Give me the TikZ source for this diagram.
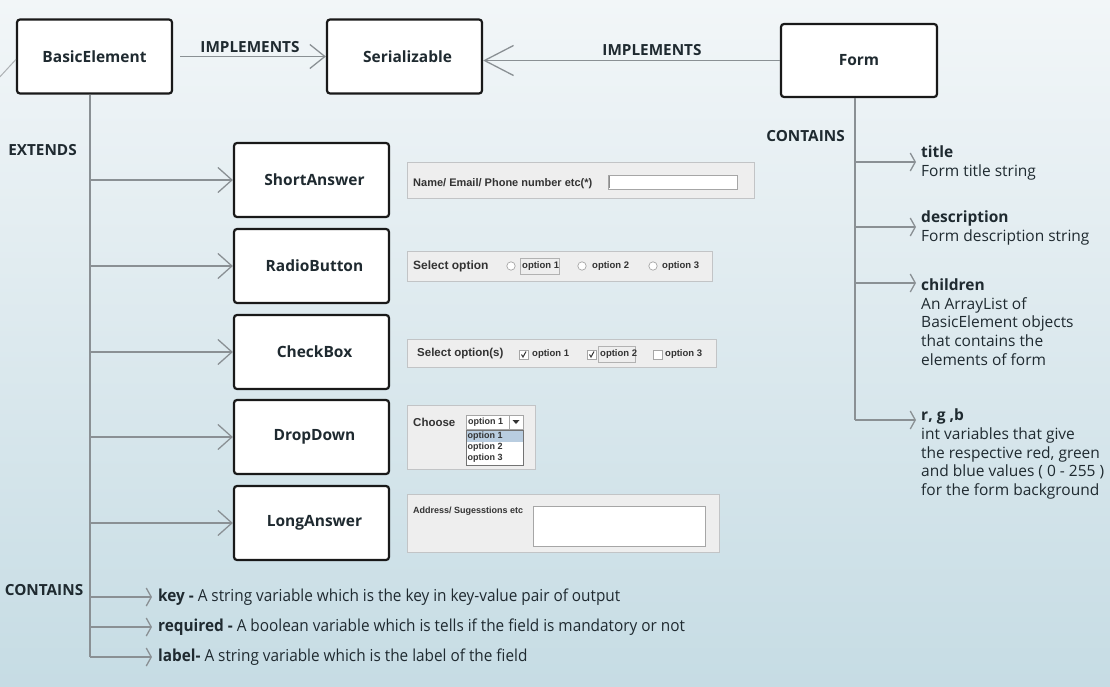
\documentclass[tikz,border=0pt]{standalone}
\usepackage{fontspec}
\setmainfont{Open Sans}
\newfontfamily\condfont[FakeStretch=0.93]{Open Sans}
\newfontfamily\swfont{Liberation Sans}
\usetikzlibrary{arrows.meta}
\definecolor{bgtop}{HTML}{F2F6F8}
\definecolor{bgbot}{HTML}{C6DCE4}
\definecolor{ink}{HTML}{1F2A30}
\definecolor{connc}{HTML}{8A9094}
\definecolor{panelc}{HTML}{EEEEEE}
\definecolor{panelb}{HTML}{C2C4C6}
\definecolor{swink}{HTML}{333333}
\definecolor{selc}{HTML}{B9CDE0}
\tikzset{
  classbox/.style={draw=black!90, line width=2.2pt, fill=white, rounded corners=3pt,
    minimum width=155pt, minimum height=74pt, inner sep=0pt, text=ink,
    font=\bfseries\fontsize{15.5}{18}\selectfont},
  lbl/.style={text=ink, inner sep=0pt, font=\bfseries\fontsize{15.3}{18}\selectfont},
  conn/.style={draw=connc, line width=1.3pt},
  bigbarb/.style={-{Straight Barb[length=15pt,width=24pt]}},
  hugebarb/.style={-{Straight Barb[length=29pt,width=30pt]}},
  midbarb/.style={-{Straight Barb[length=14pt,width=25pt]}},
  smallbarb/.style={-{Straight Barb[length=5pt,width=18pt]}},
  desc/.style={text=ink, inner sep=0pt, anchor=west, align=left,
    font=\fontsize{15.5}{18.8}\selectfont},
  bdesc/.style={text=ink, inner sep=0pt, anchor=west,
    font=\condfont\fontsize{16.5}{19}\selectfont},
  panel/.style={fill=panelc, draw=panelb, line width=0.9pt},
  wt/.style={text=swink, inner sep=0pt, anchor=west, font=\swfont\bfseries\fontsize{#1}{#1}\selectfont},
  field/.style={fill=white, draw=gray!70, line width=0.8pt},
}
\begin{document}
\begin{tikzpicture}[x=1pt,y=-1pt]
\useasboundingbox (0,0) rectangle (1110,687);
\fill[top color=bgtop, bottom color=bgbot] (0,0) rectangle (1110,687);

% class boxes
\node[classbox] (basic) at (94.5,56.5) {BasicElement};
\node[classbox] (ser) at (404.5,56.5) {\hspace*{6pt}Serializable};
\node[classbox, minimum width=156pt, minimum height=73pt] (form) at (859,60.5) {Form};

\node[classbox] (short) at (311.5,180) {\hspace*{6pt}ShortAnswer};
\node[classbox] (radio) at (311.5,266) {\hspace*{6pt}RadioButton};
\node[classbox] (check) at (311.5,352) {\hspace*{6pt}CheckBox};
\node[classbox] (drop)  at (311.5,437) {\hspace*{6pt}DropDown};
\node[classbox] (long)  at (311.5,523) {\hspace*{6pt}LongAnswer};

% implements
\draw[conn, bigbarb] ([xshift=7pt]basic.east) -- (ser.west);
\node[lbl] (impl1) at (250,47) {IMPLEMENTS};
\draw[conn, hugebarb] (form.west) -- (ser.east |- form.west);
\node[lbl] (impl2) at (652,50) {IMPLEMENTS};

% faint incoming line at left edge
\coordinate (offl) at (-3,80);
\draw[draw=connc!70, line width=1pt] (offl) -- ([yshift=-3pt]basic.west);

% extends trunk
\node[lbl] (ext) at (42.5,150) {EXTENDS};
\coordinate (tend) at (90,657);
\draw[conn] (basic.south -| tend) -- (tend);
\foreach \n/\y in {short/180,radio/266,check/352,drop/437,long/523}{
  \coordinate (b\n) at (90,\y);
  \draw[conn, midbarb] (b\n) -- (\n.west);
}

% basic element contains
\node[lbl] (cont1) at (44,590) {CONTAINS};
\foreach \n/\y in {k/597,r/627,l/657}{
  \coordinate (c\n) at (90,\y);
  \coordinate (e\n) at (152,\y);
  \draw[conn, smallbarb] (c\n) -- (e\n);
}
\node[bdesc] (tkey) at (158,597) {\textbf{key -} A string variable which is the key in key-value pair of output};
\node[bdesc] (treq) at (158,627) {\textbf{required -} A boolean variable which is tells if the field is mandatory or not};
\node[bdesc] (tlab) at (158,657) {\textbf{label-} A string variable which is the label of the field};

% form contains
\node[lbl] (cont2) at (805.5,136) {CONTAINS};
\coordinate (fend) at (855,420);
\draw[conn] (form.south -| fend) -- (fend);
\foreach \n/\y in {a/162,b/227,c/283,d/420}{
  \coordinate (f\n) at (855,\y);
  \coordinate (g\n) at (916,\y);
  \draw[conn, smallbarb] (f\n) -- (g\n);
}
\node[desc] (ttitle) at (921,163) {\textbf{title}\\Form title string};
\node[desc] (tdesc) at (921,228) {\textbf{description}\\Form description string};
\node[desc] (tchild) at (921,322) {\textbf{children}\\An ArrayList of\\BasicElement objects\\that contains the\\elements of form};
\node[desc] (trgb) at (921,454) {\textbf{r, g ,b}\\int variables that give\\the respective red, green\\and blue values ( 0 - 255 )\\for the form background};

% ---- widget 1: short answer
\draw[panel] (407,162) rectangle (754,198);
\node[wt=11] at (413,183.5) {Name/ Email/ Phone number etc(*)};
\draw[field] (608,175) rectangle (737,189);
\draw[gray!90, line width=1pt] (609,176) -- (609,188);

% ---- widget 2: radio
\draw[panel] (407,251) rectangle (712,281);
\node[wt=12] at (413,266) {Select option};
\foreach \x in {511,582,653}{
  \draw[fill=white, draw=gray!70, line width=0.7pt] (\x,266) circle (4.2);
}
\draw[draw=gray!60, line width=0.7pt] (520,258) rectangle (559,274);
\node[wt=9.5] at (522,266.5) {option 1};
\node[wt=9.5] at (592,266.5) {option 2};
\node[wt=9.5] at (662,266.5) {option 3};

% ---- widget 3: checkbox
\draw[panel] (407,339) rectangle (716,367);
\node[wt=11.5] at (417,354) {Select option(s)};
\foreach \x in {519,587,653}{
  \draw[fill=white, draw=gray!70, line width=0.7pt] (\x,350) rectangle (\x+9,359);
}
\foreach \x in {519,587}{
  \draw[swink, line width=1pt] (\x+2.5,354.5) -- (\x+4,357) -- (\x+7,351.5);
}
\draw[draw=gray!60, line width=0.7pt] (598,346) rectangle (635,362);
\node[wt=9.5] at (532,354.5) {option 1};
\node[wt=9.5] at (600,354.5) {option 2};
\node[wt=9.5] at (665,354.5) {option 3};

% ---- widget 4: dropdown
\draw[panel] (407,405) rectangle (535,469);
\node[wt=11.5] at (413,422) {Choose};
\draw[field] (466,415) rectangle (523,429);
\draw[gray!70, line width=0.7pt] (509,415) -- (509,429);
\fill[swink] (512.5,420) -- (519.5,420) -- (516,424) -- cycle;
\node[wt=9] at (468,422.5) {option 1};
\draw[fill=white, draw=gray!90!black, line width=0.9pt] (466,430) rectangle (523,465);
\fill[selc] (466.5,430.5) rectangle (522.5,441.5);
\node[wt=9] at (467.5,436.5) {option 1};
\node[wt=9] at (467.5,447.5) {option 2};
\node[wt=9] at (467.5,458.5) {option 3};

% ---- widget 5: long answer
\draw[panel] (407,494) rectangle (719,552);
\node[wt=9] at (413,511) {Address/ Sugesstions etc};
\draw[field] (533,506) rectangle (705,546);
\end{tikzpicture}
\end{document}
